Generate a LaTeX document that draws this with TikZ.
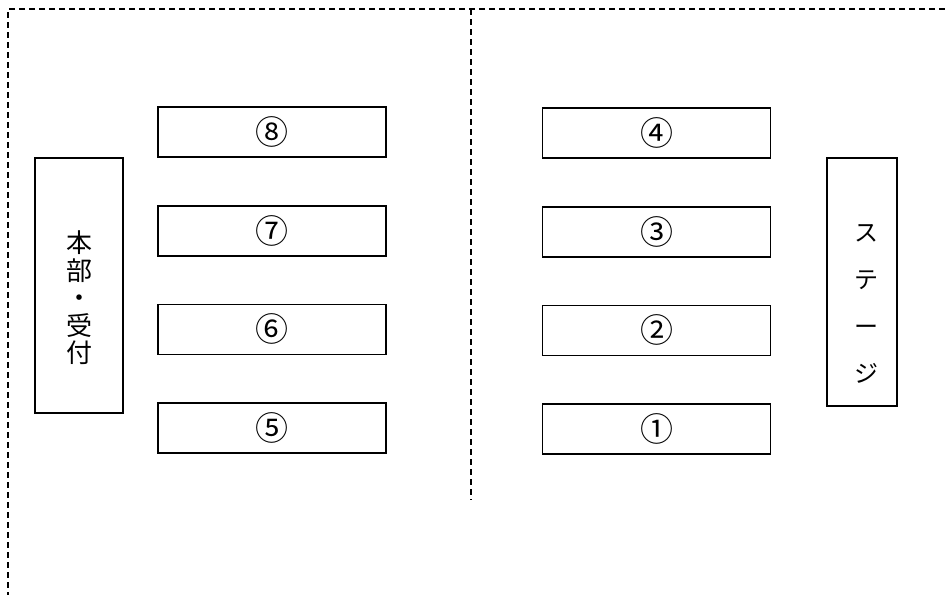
\documentclass[tikz,border=0pt]{standalone}
\usepackage{fontspec}
\newfontfamily\jpfont{Noto Sans CJK JP}

\begin{document}
\begin{tikzpicture}[x=1pt,y=-1pt,
    tablebox/.style={draw,line width=1.6pt,minimum width=228pt,minimum height=50pt,inner sep=0pt,
        font=\jpfont\fontsize{33}{33}\selectfont},
    sidebox/.style={draw,line width=1.6pt,inner sep=0pt},
    sidetext/.style={align=center,inner sep=0pt},
    fence/.style={line width=1.3pt,dash pattern=on 6pt off 4pt}]
    \useasboundingbox (0,0) rectangle (945,595);
    % dashed borders
    \draw[fence] (945,9) -- (8,9) -- (8,595);
    \draw[fence] (471,9) -- (471,500);
    % tables
    \foreach \num/\lab [count=\n, evaluate=\n as \y using 132+98.7*(\n-1)] in {8/⑧,7/⑦,6/⑥,5/⑤}{
            \node[tablebox] (table\num) at (272,\y) {\lab};
        }
    \foreach \num/\lab [count=\n, evaluate=\n as \y using 133+98.7*(\n-1)] in {4/④,3/③,2/②,1/①}{
            \node[tablebox] (table\num) at (656.5,\y) {\lab};
        }
    % honbu and stage
    \node[sidebox,minimum width=88pt,minimum height=255pt] (honbu) at (79,285.5) {};
    \node[sidetext,font=\jpfont\fontsize{26}{27.5}\selectfont] (honbutext) at (79,298) {本\\部\\・\\受\\付};
    \node[sidebox,minimum width=70pt,minimum height=248pt] (stage) at (862,282) {};
    \node[sidetext,font=\jpfont\fontsize{24}{47}\selectfont] (stagetext) at (866,304) {ス\\テ\\ー\\ジ};
\end{tikzpicture}
\end{document}
